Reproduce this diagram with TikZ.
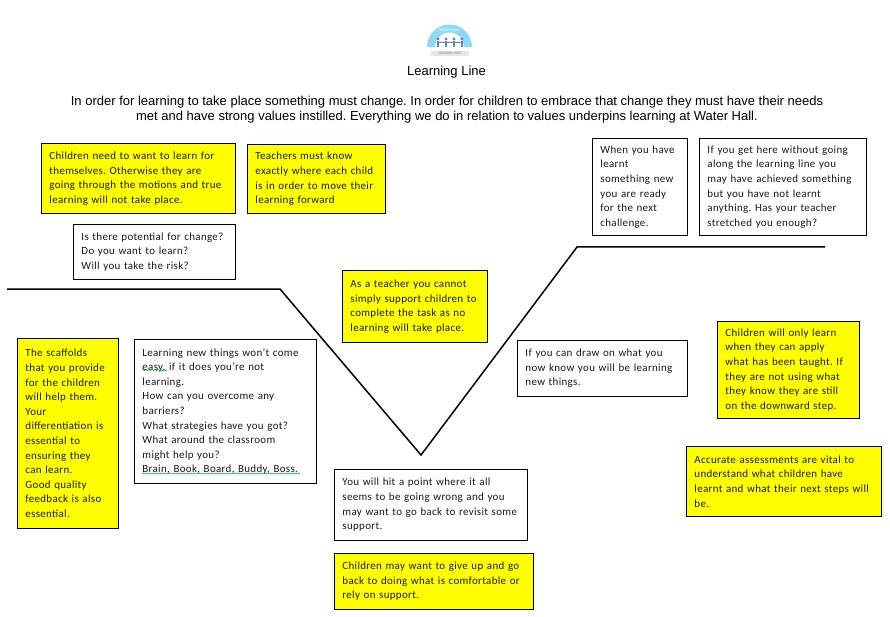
\documentclass[tikz,border=0pt]{standalone}
\usepackage{fontspec}
\setmainfont{Carlito}
\newfontfamily\headfont{Liberation Sans}
\usetikzlibrary{decorations.pathmorphing}
\definecolor{noteyellow}{RGB}{255,255,0}
\definecolor{archblue}{RGB}{140,218,246}
\definecolor{kidblue}{RGB}{95,135,175}
\definecolor{spellgreen}{RGB}{30,170,60}
\tikzset{
  notebox/.style={draw=black,line width=0.9pt,anchor=north west,align=left,inner xsep=8pt,inner ysep=0pt,
    font=\frenchspacing\fontsize{10.95}{14.6}\selectfont\addfontfeatures{LetterSpace=3},text=black!90},
  yellowbox/.style={notebox,fill=noteyellow},
  whitebox/.style={notebox,fill=white},
  headtext/.style={font=\headfont\frenchspacing\fontsize{13}{15.2}\selectfont,align=center,text=black},
  learnline/.style={line width=1.5pt,line join=miter},
  spell/.style={draw=spellgreen,line width=0.6pt,decorate,decoration={snake,amplitude=0.6pt,segment length=3pt}},
  kid/.style={fill=kidblue,draw=none}
}
\newcommand{\note}[7]{% name, style, x1,y1,x2,y2, text
  \node[#2,minimum width=#5pt-#3pt,minimum height=#6pt-#4pt,text width=#5pt-#3pt-16pt] (#1) at (#3,#4) {#7};}
\begin{document}
\begin{tikzpicture}[x=1pt,y=-1pt]
\useasboundingbox (0,0) rectangle (890,617);
% logo
\fill[archblue] (427,47) arc[start angle=180,end angle=360,radius=22.5] -- (464,47) arc[start angle=360,end angle=180,radius=14.5] -- cycle;
\node[font=\fontsize{4}{4}\selectfont,text=white] (logotop) at (449.5,30) {WATER HALL};
\foreach \kx in {438,446,454,462}{
  \fill[kid] (\kx,39) circle (1.6);
  \fill[kid] (\kx-1.3,41) rectangle (\kx+1.3,47);
}
\draw[kid,draw=kidblue,line width=0.5pt] (438,42) -- (462,42);
\fill[black!10] (431,51) rectangle (469,56);
\node[font=\fontsize{3.5}{4}\selectfont,text=kidblue] (logobottom) at (450,53.5) {CHILDREN FIRST};
% titles
\node[headtext] (title) at (446.5,72) {Learning Line};
\node[headtext] (intro) at (447,109.5) {In order for learning to take place something must change. In order for children to embrace that change they must have their needs\\met and have strong values instilled. Everything we do in relation to values underpins learning at Water Hall.};
% learning line
\coordinate (l0) at (7,289);
\coordinate (l1) at (280,289);
\coordinate (l2) at (421,455);
\coordinate (l3) at (577,247);
\coordinate (l4) at (825,247);
\draw[learnline] (l0) -- (l1) -- (l2) -- (l3) -- (l4);
% boxes
\note{a}{yellowbox}{41}{143}{235}{213}{Children need to want to learn for\\themselves. Otherwise they are\\going through the motions and true\\learning will not take place.}
\note{b}{yellowbox}{247}{144}{385}{213}{Teachers must know\\exactly where each child\\is in order to move their\\learning forward}
\note{c}{whitebox}{73}{224}{235}{279}{Is there potential for change?\\Do you want to learn?\\Will you take the risk?}
\note{d}{yellowbox}{342}{270}{487}{342}{As a teacher you cannot\\simply support children to\\complete the task as no\\learning will take place.}
\note{e}{whitebox}{592}{138}{687}{235}{When you have\\learnt\\something new\\you are ready\\for the next\\challenge.}
\note{f}{whitebox}{699}{138}{866}{235}{If you get here without going\\along the learning line you\\may have achieved something\\but you have not learnt\\anything. Has your teacher\\stretched you enough?}
\note{g}{yellowbox}{17}{338}{118}{528}{The scaffolds\\that you provide\\for the children\\will help them.\\Your\\differentiation is\\essential to\\ensuring they\\can learn.\\Good quality\\feedback is also\\essential.}
\note{h}{whitebox}{134}{339}{316}{483}{Learning new things won’t come\\easy, if it does you’re not\\learning.\\How can you overcome any\\barriers?\\What strategies have you got?\\What around the classroom\\might help you?\\Brain, Book, Board, Buddy, Boss.}
\note{i}{whitebox}{517}{340}{687}{396}{If you can draw on what you\\now know you will be learning\\new things.}
\note{j}{yellowbox}{717}{321}{859}{418}{Children will only learn\\when they can apply\\what has been taught. If\\they are not using what\\they know they are still\\on the downward step.}
\note{k}{yellowbox}{686}{446}{881}{516}{Accurate assessments are vital to\\understand what children have\\learnt and what their next steps will\\be.}
\note{m}{whitebox}{334}{469}{527}{540}{You will hit a point where it all\\seems to be going wrong and you\\may want to go back to revisit some\\support.}
\note{n}{yellowbox}{334}{553}{533}{609}{Children may want to give up and go\\back to doing what is comfortable or\\rely on support.}
% spelling squiggles
\draw[spell] (142,370) -- (167,370);
\draw[spell] (142,473.5) -- (300,473.5);
\end{tikzpicture}
\end{document}
